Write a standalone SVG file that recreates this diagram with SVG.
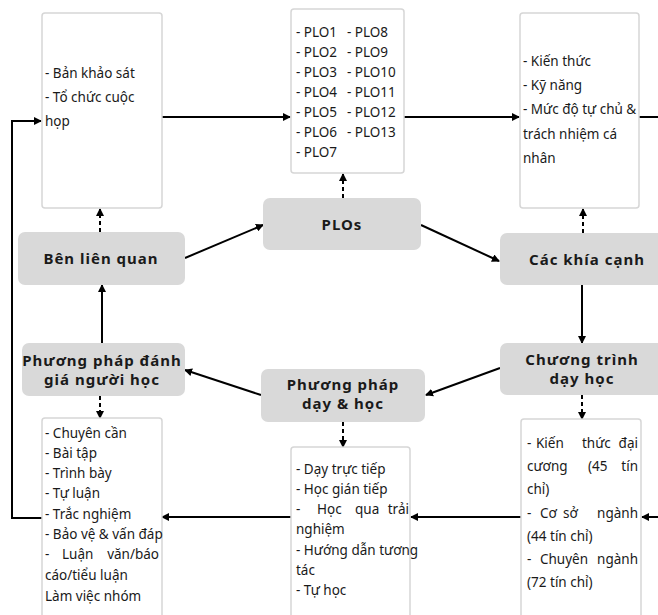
<svg xmlns="http://www.w3.org/2000/svg" width="658" height="615" viewBox="0 0 658 615">
<defs>
<style>
.box{fill:#fff;stroke:#d6d6d6;stroke-width:1.5}
.node{fill:#d9d9d9;stroke:none}
.t{font-family:"Noto Sans","Open Sans",sans-serif;font-size:13.5px;fill:#1a1a1a}
.e{text-anchor:end}
.n{font-family:"Noto Sans","Open Sans",sans-serif;font-size:15px;font-weight:bold;letter-spacing:1px;fill:#1a1a1a;text-anchor:middle}
.c{fill:none;stroke:#000;stroke-width:2}
.d{fill:none;stroke:#000;stroke-width:2;stroke-dasharray:4 3}
</style>
<marker id="ah" markerWidth="8" markerHeight="8" refX="7" refY="4" orient="auto" markerUnits="userSpaceOnUse">
<path d="M0,0 L8,4 L0,8 Z" fill="#000"/>
</marker>
</defs>
<rect width="658" height="615" fill="#fff"/>
<g id="connectors">
<path class="c" d="M162,117 H290" marker-end="url(#ah)"/>
<path class="c" d="M404,117 H519" marker-end="url(#ah)"/>
<path class="c" d="M639,117 H658"/>
<path class="c" d="M658,517 H642" marker-end="url(#ah)"/>
<path class="c" d="M521,517 H411" marker-end="url(#ah)"/>
<path class="c" d="M291,517 H162" marker-end="url(#ah)"/>
<path class="c" d="M42,518 H12 V121 H41" marker-end="url(#ah)"/>
<path class="c" d="M185,258 L263,225" marker-end="url(#ah)"/>
<path class="c" d="M421,225 L499,261" marker-end="url(#ah)"/>
<path class="c" d="M582,285 V343" marker-end="url(#ah)"/>
<path class="c" d="M500,368 L426,395" marker-end="url(#ah)"/>
<path class="c" d="M261,395 L185,370" marker-end="url(#ah)"/>
<path class="c" d="M102,343 V285" marker-end="url(#ah)"/>
<path class="d" d="M100,232 V209" marker-end="url(#ah)"/>
<path class="d" d="M343,198 V174" marker-end="url(#ah)"/>
<path class="d" d="M583,233 V209" marker-end="url(#ah)"/>
<path class="d" d="M100,396 V418" marker-end="url(#ah)"/>
<path class="d" d="M343,422 V447" marker-end="url(#ah)"/>
<path class="d" d="M582,395 V419" marker-end="url(#ah)"/>
</g>
<g id="box-stakeholder-tools">
<rect class="box" x="42" y="13" width="120" height="195" rx="3"/>
<text class="t" x="45" y="78">- Bản khảo sát</text>
<text class="t" x="45" y="102">- Tổ chức cuộc</text>
<text class="t" x="45" y="126">họp</text>
</g>
<g id="box-plo-list">
<rect class="box" x="291" y="9" width="113" height="164" rx="3"/>
<text class="t" x="296" y="37">- PLO1</text><text class="t" x="347" y="37">- PLO8</text>
<text class="t" x="296" y="57">- PLO2</text><text class="t" x="347" y="57">- PLO9</text>
<text class="t" x="296" y="77">- PLO3</text><text class="t" x="347" y="77">- PLO10</text>
<text class="t" x="296" y="97">- PLO4</text><text class="t" x="347" y="97">- PLO11</text>
<text class="t" x="296" y="117">- PLO5</text><text class="t" x="347" y="117">- PLO12</text>
<text class="t" x="296" y="137">- PLO6</text><text class="t" x="347" y="137">- PLO13</text>
<text class="t" x="296" y="157">- PLO7</text>
</g>
<g id="box-aspects">
<rect class="box" x="520" y="13" width="119" height="195" rx="3"/>
<text class="t" x="523" y="66">- Kiến thức</text>
<text class="t" x="523" y="90">- Kỹ năng</text>
<text class="t" x="523" y="114">- Mức độ tự chủ &amp;</text>
<text class="t" x="523" y="139">trách nhiệm cá</text>
<text class="t" x="523" y="163">nhân</text>
</g>
<g id="node-ben-lien-quan">
<rect class="node" x="18" y="232" width="167" height="53" rx="7"/>
<text class="n" x="101" y="264">Bên liên quan</text>
</g>
<g id="node-plos">
<rect class="node" x="263" y="198" width="158" height="52" rx="7"/>
<text class="n" x="342" y="230">PLOs</text>
</g>
<g id="node-cac-khia-canh">
<rect class="node" x="500" y="233" width="165" height="52" rx="7"/>
<text class="n" x="587" y="265">Các khía cạnh</text>
</g>
<g id="node-chuong-trinh">
<rect class="node" x="500" y="343" width="165" height="52" rx="7"/>
<text class="n" x="582" y="365">Chương trình</text>
<text class="n" x="582" y="384">dạy học</text>
</g>
<g id="node-pp-day-hoc">
<rect class="node" x="261" y="369" width="164" height="53" rx="7"/>
<text class="n" x="343" y="390">Phương pháp</text>
<text class="n" x="343" y="409">dạy &amp; học</text>
</g>
<g id="node-pp-danh-gia">
<rect class="node" x="22" y="343" width="163" height="53" rx="7"/>
<text class="n" x="102" y="366">Phương pháp đánh</text>
<text class="n" x="102" y="385">giá người học</text>
</g>
<g id="box-assessment">
<rect class="box" x="42" y="418" width="120" height="210" rx="3"/>
<text class="t" x="45" y="438">- Chuyên cần</text>
<text class="t" x="45" y="458">- Bài tập</text>
<text class="t" x="45" y="478">- Trình bày</text>
<text class="t" x="45" y="498">- Tự luận</text>
<text class="t" x="45" y="519">- Trắc nghiệm</text>
<text class="t" x="45" y="539">- Bảo vệ &amp; vấn đáp</text>
<text class="t" y="559"><tspan x="45">-</tspan><tspan x="62">Luận</tspan></text><text class="t e" x="159" y="559">văn/báo</text>
<text class="t" x="45" y="580">cáo/tiểu luận</text>
<text class="t" x="45" y="601">Làm việc nhóm</text>
</g>
<g id="box-teaching">
<rect class="box" x="291" y="447" width="119" height="180" rx="3"/>
<text class="t" x="296" y="474">- Dạy trực tiếp</text>
<text class="t" x="296" y="494">- Học gián tiếp</text>
<text class="t" y="514"><tspan x="296">-</tspan><tspan x="317">Học</tspan><tspan x="355">qua</tspan></text><text class="t e" x="409" y="514">trải</text>
<text class="t" x="296" y="534">nghiệm</text>
<text class="t" x="296" y="555">- Hướng dẫn tương</text>
<text class="t" x="296" y="575">tác</text>
<text class="t" x="296" y="595">- Tự học</text>
</g>
<g id="box-curriculum">
<rect class="box" x="521" y="419" width="120" height="210" rx="3"/>
<text class="t" y="448"><tspan x="527">-</tspan><tspan x="536">Kiến</tspan><tspan x="582">thức</tspan></text><text class="t e" x="638" y="448">đại</text>
<text class="t" y="471"><tspan x="527">cương</tspan><tspan x="588">(45</tspan></text><text class="t e" x="638" y="471">tín</text>
<text class="t" x="527" y="494">chỉ)</text>
<text class="t" y="518"><tspan x="527">-</tspan><tspan x="540">Cơ</tspan><tspan x="563">sở</tspan></text><text class="t e" x="638" y="518">ngành</text>
<text class="t" x="527" y="541">(44 tín chỉ)</text>
<text class="t" y="564"><tspan x="527">-</tspan><tspan x="540">Chuyên</tspan></text><text class="t e" x="638" y="564">ngành</text>
<text class="t" x="527" y="587">(72 tín chỉ)</text>
</g>
</svg>
